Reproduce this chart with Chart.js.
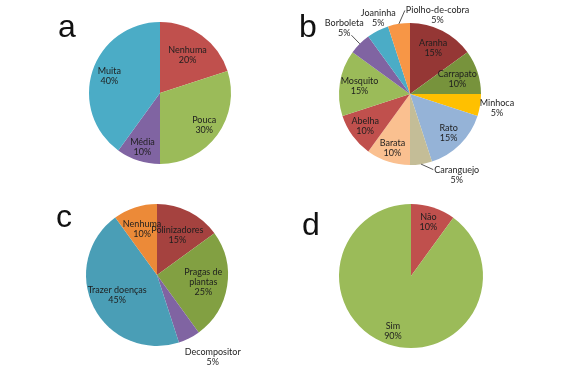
<!DOCTYPE html>
<html>
<head>
    <title>Pies</title>
    <script src="https://cdn.jsdelivr.net/npm/chart.js"></script>
    <style>
        body { margin: 0; background: #fff; }
        #wrap { position: relative; width: 569px; height: 372px; }
        canvas { position: absolute; }
        .letter { position: absolute; font-family: "Liberation Sans", Arial, sans-serif; font-size: 32px; line-height: 32px; color: #111; }
    </style>
</head>
<body>
<div id="wrap">
    <canvas id="pieA" width="285" height="186" style="left:0;top:0"></canvas>
    <canvas id="pieB" width="284" height="186" style="left:285px;top:0"></canvas>
    <canvas id="pieC" width="285" height="186" style="left:0;top:186px"></canvas>
    <canvas id="pieD" width="284" height="186" style="left:285px;top:186px"></canvas>
    <div class="letter" style="left:58px;top:10px">a</div>
    <div class="letter" style="left:299px;top:10px">b</div>
    <div class="letter" style="left:56px;top:200px">c</div>
    <div class="letter" style="left:302px;top:208px">d</div>
</div>
<script>
    // a - how much
    const aLabels = ['Nenhuma', 'Pouca', 'Média', 'Muita'];
    const aValues = [20, 30, 10, 40];

    // b - animals
    const bLabels = ['Aranha', 'Carrapato', 'Minhoca', 'Rato', 'Caranguejo', 'Barata',
                     'Abelha', 'Mosquito', 'Borboleta', 'Joaninha', 'Piolho-de-cobra'];
    const bValues = [15, 10, 5, 15, 5, 10, 10, 15, 5, 5, 5];

    // c - role
    const cLabels = ['Polinizadores', ['Pragas de', 'plantas'], 'Decompositor', 'Trazer doenças', 'Nenhuma'];
    const cValues = [15, 25, 5, 45, 10];

    // d - yes / no
    const dLabels = ['Não', 'Sim'];
    const dValues = [10, 90];

    const RED = '#C0504D', GREEN = '#9BBB59', PURPLE = '#8064A2', TEAL = '#4BACC6', ORANGE = '#F79646';

    // label placement: radial factor, extra shift, optional leader line
    const aPos = [{f: 0.66}, {f: 0.77}, {f: 0.8}, {f: 0.75}];
    const bPos = [
        {f: 0.72}, {f: 0.7}, {f: 1.24}, {f: 0.77},
        {f: 1.15, dx: 34, leader: 'left'},
        {f: 0.8}, {f: 0.78}, {f: 0.72},
        {f: 1.31, leader: 'right'},
        {f: 1.2, dx: 7},
        {f: 1.12, dx: 40, leader: 'left'}
    ];
    const cPos = [{f: 0.63}, {f: 0.66}, {f: 1.2, dx: 17, dy: 6}, {f: 0.63}, {f: 0.68}];
    const dPos = [{f: 0.78}, {f: 0.81}];

    const sliceLabels = {
        id: 'sliceLabels',
        afterDatasetsDraw(chart) {
            const ctx = chart.ctx;
            const pos = chart.options.plugins.sliceLabels.pos;
            const data = chart.data.datasets[0].data;
            const total = data.reduce((s, v) => s + v, 0);
            ctx.save();
            ctx.font = '9px Lato, "Open Sans", sans-serif';
            ctx.fillStyle = '#1e1e1e';
            ctx.textAlign = 'center';
            ctx.textBaseline = 'middle';
            chart.getDatasetMeta(0).data.forEach((arc, i) => {
                const p = arc.getProps(['x', 'y', 'startAngle', 'endAngle', 'outerRadius'], true);
                const mid = (p.startAngle + p.endAngle) / 2;
                const o = pos[i] || {f: 0.7};
                const R = p.outerRadius;
                const tx = p.x + Math.cos(mid) * R * o.f + (o.dx || 0);
                const ty = p.y + Math.sin(mid) * R * o.f + (o.dy || 0);
                let lab = chart.data.labels[i];
                const lines = (Array.isArray(lab) ? lab.slice() : [lab]);
                lines.push(Math.round(data[i] / total * 100) + '%');
                const lh = 10;
                const y0 = ty - (lines.length - 1) * lh / 2;
                lines.forEach((t, k) => ctx.fillText(t, tx, y0 + k * lh));
                if (o.leader) {
                    const ex = p.x + Math.cos(mid) * R;
                    const ey = p.y + Math.sin(mid) * R;
                    let lx, ly;
                    if (o.leader === 'left') {
                        lx = tx - ctx.measureText(lines[0]).width / 2 - 1;
                        ly = y0;
                    } else {
                        const last = lines[lines.length - 1];
                        lx = tx + ctx.measureText(last).width / 2 + 1;
                        ly = y0 + (lines.length - 1) * lh + 2;
                    }
                    ctx.strokeStyle = '#555';
                    ctx.lineWidth = 1;
                    ctx.beginPath();
                    ctx.moveTo(ex, ey);
                    ctx.lineTo(lx, ly);
                    ctx.stroke();
                }
            });
            ctx.restore();
        }
    };

    function makePie(id, labels, values, colors, pos, padding) {
        new Chart(document.getElementById(id), {
            type: 'pie',
            data: {
                labels: labels,
                datasets: [{
                    data: values,
                    backgroundColor: colors,
                    borderWidth: 0
                }]
            },
            options: {
                responsive: false,
                animation: false,
                layout: { padding: padding },
                plugins: {
                    legend: { display: false },
                    tooltip: { enabled: false },
                    sliceLabels: { pos: pos }
                }
            },
            plugins: [sliceLabels]
        });
    }

    makePie('pieA', aLabels, aValues, [RED, GREEN, PURPLE, TEAL], aPos,
        {left: 89, right: 54, top: 22, bottom: 22});
    makePie('pieB', bLabels, bValues,
        ['#953735', '#77933C', '#FFC000', '#95B3D7', '#C4BD97', '#FAC090',
         RED, GREEN, PURPLE, TEAL, ORANGE], bPos,
        {left: 54, right: 88, top: 23, bottom: 21});
    makePie('pieC', cLabels, cValues, ['#A5423F', '#82A042', PURPLE, '#4A9EB6', '#EC8A38'], cPos,
        {left: 86, right: 57, top: 18, bottom: 26});
    makePie('pieD', dLabels, dValues, [RED, GREEN], dPos,
        {left: 54, right: 86, top: 18, bottom: 24});
</script>
</body>
</html>
